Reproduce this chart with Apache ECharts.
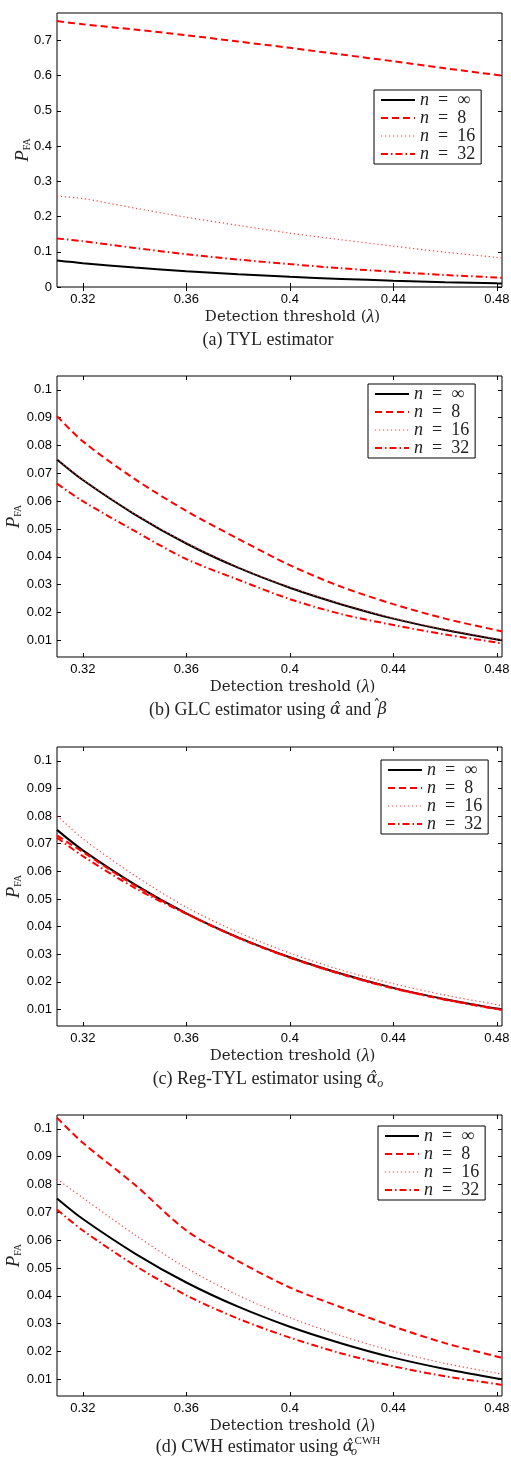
<!DOCTYPE html>
<html>
<head>
<meta charset="utf-8">
<script src="https://cdn.jsdelivr.net/npm/echarts@6/dist/echarts.min.js"></script>
<style>
html, body { margin: 0; padding: 0; background: #fff; }
#chart { width: 511px; height: 1463px; }
</style>
</head>
<body>
<div id="chart"></div>
<script>
// detection threshold (lambda)
var thresholds = [0.31, 0.32, 0.34, 0.36, 0.38, 0.40, 0.42, 0.44, 0.46, 0.48, 0.482];

// n = infinity (same curve in every panel)
var pfaInf = [0.0750, 0.0676, 0.0553, 0.0448, 0.0361, 0.0289, 0.0229, 0.0178, 0.0137, 0.0103, 0.0100];

// (a) TYL
var tylN8  = [0.755, 0.746, 0.731, 0.715, 0.697, 0.679, 0.660, 0.641, 0.621, 0.602, 0.600];
var tylN16 = [0.258, 0.251, 0.224, 0.198, 0.175, 0.153, 0.134, 0.116, 0.099, 0.084, 0.082];
var tylN32 = [0.138, 0.130, 0.111, 0.093, 0.078, 0.065, 0.053, 0.043, 0.034, 0.027, 0.026];

// (b) GLC
var glcN8  = [0.0906, 0.0815, 0.0680, 0.0565, 0.0465, 0.0370, 0.0292, 0.0230, 0.0178, 0.0136, 0.0132];
var glcN16 = [0.0752, 0.0678, 0.0555, 0.0450, 0.0363, 0.0291, 0.0231, 0.0180, 0.0139, 0.0105, 0.0102];
var glcN32 = [0.0663, 0.0600, 0.0493, 0.0392, 0.0318, 0.0248, 0.0194, 0.0155, 0.0121, 0.0092, 0.0089];

// (c) Reg-TYL
var regN8  = [0.0730, 0.0670, 0.0549, 0.0447, 0.0360, 0.0288, 0.0228, 0.0177, 0.0136, 0.0102, 0.0099];
var regN16 = [0.0802, 0.0718, 0.0585, 0.0470, 0.0379, 0.0304, 0.0242, 0.0193, 0.0152, 0.0117, 0.0113];
var regN32 = [0.0722, 0.0655, 0.0540, 0.0446, 0.0359, 0.0287, 0.0227, 0.0176, 0.0135, 0.0101, 0.0098];

// (d) CWH
var cwhN8  = [0.1040, 0.0950, 0.0800, 0.0635, 0.0525, 0.0430, 0.0358, 0.0290, 0.0230, 0.0182, 0.0178];
var cwhN16 = [0.0820, 0.0752, 0.0620, 0.0500, 0.0402, 0.0322, 0.0256, 0.0201, 0.0157, 0.0122, 0.0118];
var cwhN32 = [0.0710, 0.0635, 0.0510, 0.0402, 0.0318, 0.0250, 0.0193, 0.0147, 0.0111, 0.0083, 0.0080];

// tick labels
var xTicks = [0.32, 0.36, 0.4, 0.44, 0.48];
var yTicksTyl = [0, 0.1, 0.2, 0.3, 0.4, 0.5, 0.6, 0.7];
var yTicksSmall = [0.01, 0.02, 0.03, 0.04, 0.05, 0.06, 0.07, 0.08, 0.09, 0.1];

var seriesNames = ['n\u2002=\u2002\u221e', 'n\u2002=\u20028', 'n\u2002=\u200216', 'n\u2002=\u200232'];

var lineStyles = [
    {color: '#000000', width: 2, type: 'solid'},
    {color: '#ff0000', width: 2, type: [7, 4]},
    {color: '#ff3c3c', width: 1.2, type: [1.2, 2.8]},
    {color: '#ff0000', width: 2, type: [7, 3, 1.5, 3]}
];

var serif = 'Liberation Serif';

var panels = [
    {top: 13, height: 274, yMin: 0, yMax: 0.778, yTicks: yTicksTyl, yGap: 25,
        xName: 'Detection threshold ({i|\u03bb})',
        legend: {left: 374, top: 90},
        data: [pfaInf, tylN8, tylN16, tylN32],
        caption: '(a) TYL estimator', captionTop: 329},
    {top: 376, height: 281, yMin: 0.004, yMax: 0.105, yTicks: yTicksSmall, yGap: 34,
        xName: 'Detection treshold ({i|\u03bb})',
        legend: {left: 368, top: 384},
        data: [pfaInf, glcN8, glcN16, glcN32],
        caption: '(b) GLC estimator using {g|\u03b1\u0302} and {hz|\u02c6}{g|\u03b2}', captionTop: 699},
    {top: 747, height: 279, yMin: 0.004, yMax: 0.105, yTicks: yTicksSmall, yGap: 34,
        xName: 'Detection treshold ({i|\u03bb})',
        legend: {left: 381, top: 760},
        data: [pfaInf, regN8, regN16, regN32],
        caption: '(c) Reg-TYL estimator using {g|\u03b1\u0302}{sub|o}', captionTop: 1068},
    {top: 1115, height: 281, yMin: 0.004, yMax: 0.105, yTicks: yTicksSmall, yGap: 34,
        xName: 'Detection treshold ({i|\u03bb})',
        legend: {left: 378, top: 1126},
        data: [pfaInf, cwhN8, cwhN16, cwhN32],
        caption: '(d) CWH estimator using {g|\u03b1\u0302}{subz|o}{sup|CWH}', captionTop: 1436}
];

function fmt(v) {
    return String(+v.toFixed(3));
}

var option = {
    animation: false,
    backgroundColor: '#ffffff',
    grid: [], xAxis: [], yAxis: [], series: [], legend: [], title: []
};

panels.forEach(function (p, k) {
    option.grid.push({
        left: 57, width: 445, top: p.top, height: p.height,
        outerBoundsMode: 'none', containLabel: false,
        show: true, borderColor: '#000', borderWidth: 1, backgroundColor: 'transparent'
    });

    // bottom x axis with labels
    option.xAxis.push({
        type: 'value', gridIndex: k, position: 'bottom', min: 0.31, max: 0.482,
        splitLine: {show: false}, axisLine: {show: false},
        axisTick: {inside: true, length: 4, customValues: xTicks, lineStyle: {color: '#000'}},
        axisLabel: {customValues: xTicks, formatter: fmt, margin: 6,
            fontFamily: 'Liberation Sans', fontSize: 13, color: '#000'},
        name: p.xName, nameLocation: 'middle', nameGap: 21, nameMoveOverlap: false,
        nameTextStyle: {fontFamily: 'DejaVu Serif', fontSize: 15, color: '#222', padding: [0, 0, 0, 26],
            rich: {i: {fontFamily: serif, fontStyle: 'italic', fontSize: 18, color: '#222'}}}
    });
    // top x axis, ticks only
    option.xAxis.push({
        type: 'value', gridIndex: k, position: 'top', min: 0.31, max: 0.482,
        splitLine: {show: false}, axisLine: {show: false}, axisLabel: {show: false},
        axisTick: {inside: true, length: 4, customValues: xTicks, lineStyle: {color: '#000'}}
    });

    option.yAxis.push({
        type: 'value', gridIndex: k, position: 'left', min: p.yMin, max: p.yMax,
        splitLine: {show: false}, axisLine: {show: false},
        axisTick: {inside: true, length: 4, customValues: p.yTicks, lineStyle: {color: '#000'}},
        axisLabel: {customValues: p.yTicks, formatter: fmt, margin: 5,
            fontFamily: 'Liberation Sans', fontSize: 13, color: '#000'},
        name: '{p|P}{s|FA}', nameLocation: 'middle', nameGap: p.yGap, nameRotate: 90,
        nameMoveOverlap: false,
        nameTextStyle: {rich: {
            p: {fontFamily: serif, fontStyle: 'italic', fontSize: 19, color: '#222'},
            s: {fontFamily: serif, fontSize: 10, color: '#222', verticalAlign: 'bottom'}
        }}
    });
    option.yAxis.push({
        type: 'value', gridIndex: k, position: 'right', min: p.yMin, max: p.yMax,
        splitLine: {show: false}, axisLine: {show: false}, axisLabel: {show: false},
        axisTick: {inside: true, length: 4, customValues: p.yTicks, lineStyle: {color: '#000'}}
    });

    p.data.forEach(function (vals, j) {
        option.series.push({
            name: seriesNames[j], type: 'line',
            xAxisIndex: 2 * k, yAxisIndex: 2 * k,
            symbol: 'none', smooth: 0.3,
            lineStyle: lineStyles[j],
            itemStyle: {color: lineStyles[j].color},
            data: thresholds.map(function (x, i) { return [x, vals[i]]; })
        });
    });

    option.legend.push({
        orient: 'vertical', left: p.legend.left, top: p.legend.top,
        backgroundColor: '#fff', borderColor: '#000', borderWidth: 1,
        padding: [1, 6, 1, 6], itemGap: 0, itemWidth: 34, itemHeight: 12,
        itemTextGap: 7, selectedMode: false,
        itemStyle: {color: 'rgba(0,0,0,0)', borderWidth: 0, opacity: 0},
        data: seriesNames.map(function (nm, j) {
            return {name: nm, lineStyle: {width: lineStyles[j].width === 2 ? 2 : 1}};
        }),
        formatter: function (nm) { return '{i|n}{r|' + nm.slice(1) + '}'; },
        textStyle: {rich: {
            i: {fontFamily: serif, fontStyle: 'italic', fontSize: 18, lineHeight: 18, color: '#222'},
            r: {fontFamily: serif, fontSize: 18, lineHeight: 18, color: '#222'}
        }}
    });

    option.title.push({
        text: p.caption, left: 268, top: p.captionTop, textAlign: 'center',
        padding: 0,
        textStyle: {fontFamily: serif, fontSize: 18, lineHeight: 22, fontWeight: 'normal', color: '#222',
            rich: {
                g: {fontFamily: 'DejaVu Serif', fontStyle: 'italic', fontSize: 16, lineHeight: 22, color: '#222'},
                hz: {fontFamily: 'DejaVu Serif', fontSize: 14, lineHeight: 14, color: '#222',
                    verticalAlign: 'top', width: 2},
                sub: {fontFamily: serif, fontStyle: 'italic', fontSize: 12, color: '#222', verticalAlign: 'bottom'},
                subz: {fontFamily: serif, fontStyle: 'italic', fontSize: 12, color: '#222', verticalAlign: 'bottom', width: 1},
                sup: {fontFamily: serif, fontSize: 11, color: '#222', verticalAlign: 'top'}
            }}
    });
});

var chart = echarts.init(document.getElementById('chart'));
chart.setOption(option);
</script>
</body>
</html>
